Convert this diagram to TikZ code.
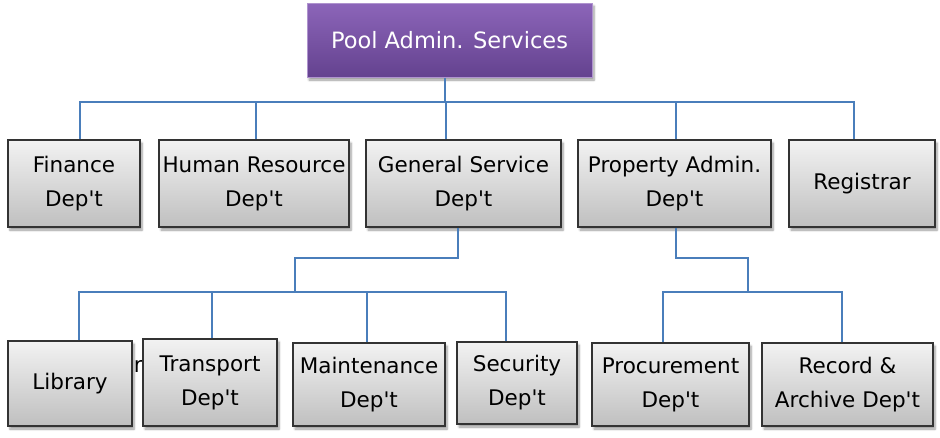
\documentclass[tikz,border=0pt]{standalone}
\usepackage{fontspec}
\setmainfont{DejaVu Sans}
\usetikzlibrary{shadows.blur,shadings}
\definecolor{linkblue}{HTML}{4A7EBB}
\definecolor{purpletop}{HTML}{8C65B9}
\definecolor{purplebot}{HTML}{64428F}
\newcommand{\dept}{Dep\textquotesingle t}
\tikzset{
   dept/.style={draw=black!80, line width=1.1pt, top color=black!5, bottom color=black!25,
                blur shadow={shadow xshift=2pt, shadow yshift=-3pt, shadow blur steps=6},
                align=center, inner sep=0pt, font=\fontsize{21.5}{34}\selectfont},
   head/.style={draw=purpletop!70!white, line width=1pt, top color=purpletop, bottom color=purplebot,
                blur shadow={shadow xshift=2pt, shadow yshift=-3pt, shadow blur steps=6},
                text=white, font=\fontsize{22.5}{27}\selectfont, minimum width=285pt, minimum height=74pt},
   link/.style={draw=linkblue, line width=1.2pt}
}
\begin{document}
\begin{tikzpicture}[x=1pt,y=-1pt]
  \useasboundingbox (0,0) rectangle (940,437);
  \node[head] (pool) at (449.5,40) {Pool Admin. Services};
  \node[dept, minimum width=132pt, minimum height=87pt] (fin) at (74,183.5) {Finance\\\dept};
  \node[dept, minimum width=190pt, minimum height=87pt] (hum) at (254,183.5) {Human Resource\\\dept};
  \node[dept, minimum width=195pt, minimum height=87pt] (gen) at (463.5,183.5) {General Service\\\dept};
  \node[dept, minimum width=193pt, minimum height=87pt] (prop) at (674.5,183.5) {Property Admin.\\\dept};
  \node[dept, minimum width=146pt, minimum height=87pt] (reg) at (862,183.5) {Registrar};

  \node[font=\fontsize{21.5}{26}\selectfont, inner sep=0pt, anchor=east] (stray) at (143,366) {r};
  \node[dept, minimum width=124pt, minimum height=85pt] (lib) at (70,383.5) {Library};
  \node[dept, minimum width=134pt, minimum height=87pt] (trans) at (210,382.5) {Transport\\\dept};
  \node[dept, minimum width=152pt, minimum height=83pt] (maint) at (369,384.5) {Maintenance\\\dept};
  \node[dept, minimum width=120pt, minimum height=82pt] (sec) at (517,383) {Security\\\dept};
  \node[dept, minimum width=157pt, minimum height=83pt] (proc) at (670.5,384.5) {Procurement\\\dept};
  \node[dept, minimum width=171pt, minimum height=83pt] (rec) at (847.5,384.5) {Record \&\\Archive \dept};

  \coordinate (bus0) at (445,102);
  \coordinate (knee1) at (295,258);
  \coordinate (bus1) at (295,292);
  \coordinate (knee2) at (748,258);
  \coordinate (bus2) at (748,292);

  \draw[link] (pool.south -| bus0) -- (bus0);
  \draw[link] ([xshift=6pt]fin.north) |- (bus0);
  \draw[link] ([xshift=2pt]hum.north) |- (bus0);
  \draw[link] ([xshift=-17.5pt]gen.north) |- (bus0);
  \draw[link] ([xshift=1.5pt]prop.north) |- (bus0);
  \draw[link] ([xshift=-8pt]reg.north) |- (bus0);

  \draw[link] ([xshift=-5.5pt]gen.south) |- (knee1) -- (bus1);
  \draw[link] ([xshift=9pt]lib.north) |- (bus1);
  \draw[link] ([xshift=2pt]trans.north) |- (bus1);
  \draw[link] ([xshift=-2pt]maint.north) |- (bus1);
  \draw[link] ([xshift=-11pt]sec.north) |- (bus1);

  \draw[link] ([xshift=1.5pt]prop.south) |- (knee2) -- (bus2);
  \draw[link] ([xshift=-7.5pt]proc.north) |- (bus2);
  \draw[link] ([xshift=-5.5pt]rec.north) |- (bus2);
\end{tikzpicture}
\end{document}
